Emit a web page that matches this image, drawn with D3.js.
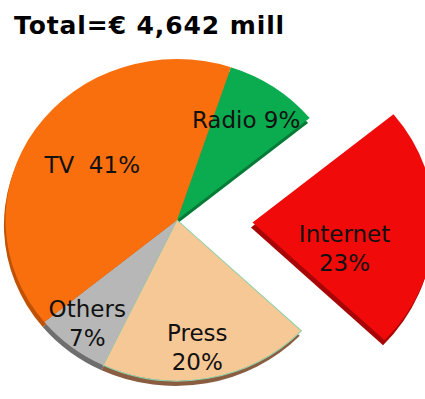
<!DOCTYPE html>
<html>
<head>
<meta charset="utf-8">
<script src="https://cdn.jsdelivr.net/npm/d3@7"></script>
<style>
  body { margin: 0; background: #fff; }
  text { font-family: "DejaVu Sans", Verdana, sans-serif; white-space: pre; }
</style>
</head>
<body>
<div id="chart"></div>
<script>
// data
const categories = ["Radio", "Internet", "Press", "Others", "TV"]
const shares = [9, 23, 20, 7, 41]
const labelLines = [["Radio 9%"], ["Internet", "23%"], ["Press", "20%"], ["Others", "7%"], ["TV  41%"]]
const title = "Total=€ 4,642 mill"

// layout
const width = 425
const height = 399
const cx = 177, cy = 220
const radius = 161
const explodedRadius = 171
const sx = 1.065
const startDeg = 18.3
const explodeIdx = 1
const explodeDist = 71

const colors = ["#0bab50", "#f10a0a", "#f6c896", "#b7b7b7", "#f96f0d"]
const sideColors = ["#067a36", "#a80606", "#8a5c40", "#6e6e6e", "#c05206"]

// label position: [radius factor, angle shift in degrees]
const labelPlace = [[0.74, -1.5], [0.56, 14.6], [0.8, 2], [0.83, 1], [0.6, 0]]

const svg = d3.select("#chart").append("svg").attr("width", width).attr("height", height)

const pie = d3.pie().sort(null).value(d => d)
    .startAngle(startDeg * Math.PI / 180)
    .endAngle((startDeg + 360) * Math.PI / 180)
const arcs = pie(shares)

const arc = d3.arc().innerRadius(0)
    .outerRadius(d => d.index === explodeIdx ? explodedRadius : radius)

function offset(i) {
    if (i !== explodeIdx) return [0, 0]
    const a = (arcs[i].startAngle + arcs[i].endAngle) / 2
    return [Math.sin(a) * explodeDist, -Math.cos(a) * explodeDist]
}

const pieGroup = svg.append("g").attr("transform", `translate(${cx}, ${cy}) scale(${sx}, 1)`)

// 3d side (darker copy shifted down)
pieGroup.selectAll("path.side").data(arcs).enter().append("path")
    .attr("class", "side")
    .attr("d", arc)
    .attr("fill", (d, i) => sideColors[i])
    .attr("transform", (d, i) => { const o = offset(i); return `translate(${o[0] - 1.5}, ${o[1] + 5})` })

pieGroup.selectAll("path.top").data(arcs).enter().append("path")
    .attr("class", "top")
    .attr("d", arc)
    .attr("fill", (d, i) => colors[i])
    .attr("stroke", (d, i) => i === 2 ? "#8fcfa8" : "none")
    .attr("stroke-width", 1)
    .attr("transform", (d, i) => { const o = offset(i); return `translate(${o[0]}, ${o[1]})` })

// labels
const labelGroup = svg.append("g").attr("transform", `translate(${cx}, ${cy})`)
arcs.forEach((d, i) => {
    const a = (d.startAngle + d.endAngle) / 2 + labelPlace[i][1] * Math.PI / 180
    const r = radius * labelPlace[i][0]
    const o = offset(i)
    const x = (Math.sin(a) * r + o[0]) * sx
    const y = -Math.cos(a) * r + o[1]
    const lines = labelLines[i]
    const t = labelGroup.append("text")
        .attr("text-anchor", "middle")
        .attr("font-size", "23px")
        .attr("fill", "#111")
    lines.forEach((s, k) => {
        t.append("tspan").attr("x", x)
            .attr("y", y + 8 + (k - (lines.length - 1) / 2) * 29)
            .text(s)
    })
})

// title
svg.append("text")
    .attr("x", 14)
    .attr("y", 34)
    .attr("font-size", "25px")
    .attr("font-weight", "bold")
    .attr("letter-spacing", "0.9px")
    .text(title)
</script>
</body>
</html>
